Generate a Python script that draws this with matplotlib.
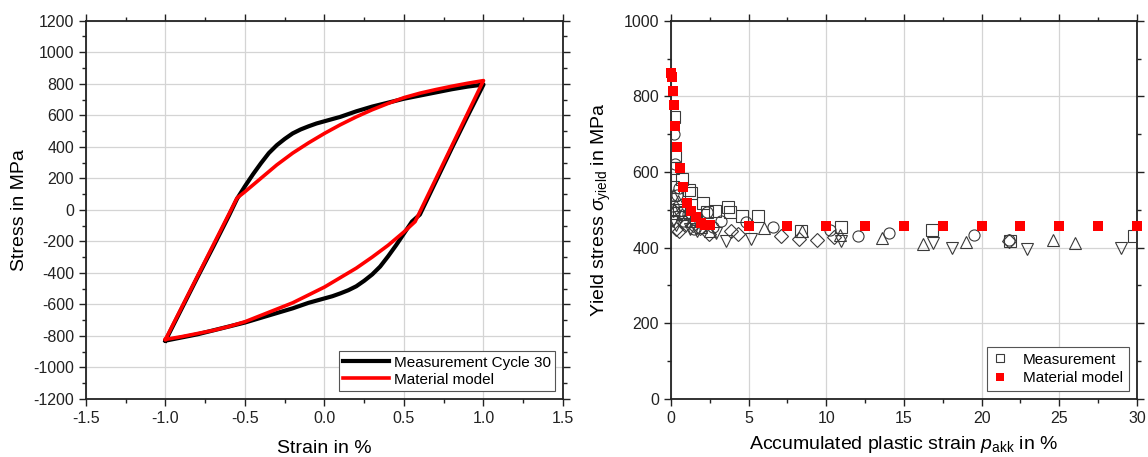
import matplotlib
matplotlib.use("Agg")
import matplotlib.pyplot as plt
from matplotlib.ticker import MultipleLocator, FormatStrFormatter

plt.rcParams['font.family'] = ['Liberation Sans', 'DejaVu Sans']
plt.rcParams['axes.unicode_minus'] = False
plt.rcParams['mathtext.fontset'] = 'custom'
plt.rcParams['mathtext.rm'] = 'Liberation Sans'
plt.rcParams['mathtext.it'] = 'Liberation Sans:italic'

# ---------------- Left panel: hysteresis loop ----------------
meas_strain = [-1.0, -0.9, -0.8, -0.7, -0.6, -0.55, -0.5, -0.45, -0.4, -0.35, -0.3, -0.25, -0.2,
               -0.15, -0.1, -0.05, 0.0, 0.1, 0.2, 0.3, 0.4, 0.5, 0.6, 0.7, 0.8, 0.9, 1.0,
               0.9, 0.8, 0.7, 0.6, 0.55, 0.5, 0.45, 0.4, 0.35, 0.3, 0.25, 0.2, 0.15, 0.1,
               0.05, 0.0, -0.1, -0.2, -0.3, -0.4, -0.5, -0.6, -0.7, -0.8, -0.9, -1.0]
meas_stress = [-830, -630, -430, -235, -35, 70, 150, 225, 295, 360, 410, 450, 485,
               510, 530, 548, 562, 590, 625, 655, 680, 705, 725, 745, 765, 782, 795,
               595, 390, 180, -30, -75, -150, -225, -295, -360, -410, -450, -485, -510, -530,
               -548, -562, -590, -625, -655, -685, -715, -740, -765, -790, -810, -830]

model_strain = [-1.0, -0.55, -0.5, -0.4, -0.3, -0.2, -0.1, 0.0, 0.1, 0.2, 0.3, 0.4, 0.5,
                0.6, 0.7, 0.8, 0.9, 1.0,
                0.57, 0.5, 0.4, 0.3, 0.2, 0.1, 0.0, -0.1, -0.2, -0.3, -0.4, -0.5,
                -0.6, -0.7, -0.8, -0.9, -1.0]
model_stress = [-822, 75, 115, 200, 285, 360, 425, 485, 540, 590, 635, 675, 712,
                740, 763, 784, 803, 820,
                -75, -140, -225, -300, -370, -430, -490, -540, -590, -630, -670, -710,
                -740, -765, -785, -805, -822]

# ---------------- Right panel: yield stress ----------------
sq_x = [0.19, 0.28, 0.15, 0.7, 1.17, 1.28, 2.03, 2.33, 2.84, 3.68, 3.78, 4.59, 5.59, 8.39,
        10.96, 16.83, 21.8, 29.8, 0.5, 0.9, 0.12, 1.6]
sq_y = [745, 643, 560, 581, 552, 545, 519, 494, 497, 508, 495, 483, 485, 443,
        454, 448, 418, 430, 500, 495, 610, 470]
ci_x = [0.19, 0.51, 0.1, 0.4, 1.5, 2.3, 3.19, 4.85, 6.57, 10.26, 12.07, 14.03, 19.53, 21.75,
        0.25, 0.8, 1.1, 2.7]
ci_y = [700, 558, 510, 540, 450, 495, 470, 467, 454, 448, 430, 440, 434, 421,
        620, 470, 490, 455]
tu_x = [0.47, 0.2, 0.7, 1.3, 6.01, 8.44, 10.91, 13.57, 16.25, 19.0, 24.6, 26.0, 0.1, 1.9, 2.5]
tu_y = [523, 500, 490, 470, 452, 445, 434, 426, 410, 415, 421, 413, 540, 455, 445]
td_x = [0.35, 0.1, 1.2, 3.54, 5.17, 10.96, 16.85, 18.07, 22.91, 28.98, 0.6, 1.7, 2.9]
td_y = [461, 470, 450, 418, 424, 418, 413, 399, 397, 399, 480, 445, 440]
di_x = [0.54, 0.3, 0.9, 1.86, 2.45, 3.85, 7.11, 8.23, 9.37, 10.49, 21.75, 0.15, 1.4, 4.3]
di_y = [445, 450, 460, 452, 436, 443, 432, 424, 419, 427, 418, 500, 460, 435]

mod_x = [0.02, 0.05, 0.13, 0.17, 0.26, 0.41, 0.58, 0.8, 1.05, 1.31, 1.61, 1.91, 2.19, 2.49,
         5, 7.5, 10, 12.5, 15, 17.5, 20, 22.5, 25, 27.5, 30]
mod_y = [861, 850, 815, 778, 722, 666, 610, 561, 519, 497, 481, 465, 459, 459,
         458, 458, 458, 458, 458, 458, 458, 458, 458, 458, 458]

fig = plt.figure(figsize=(11.48, 4.57), dpi=100)
ax1 = fig.add_axes([0.0749, 0.127, 0.4155, 0.8277])
ax2 = fig.add_axes([0.5845, 0.127, 0.4059, 0.8277])

grid_kw = dict(color='#d4d4d4', linewidth=0.9)

# Left
ax1.plot(meas_strain, meas_stress, color='black', lw=3.0, label='Measurement Cycle 30',
         zorder=3, solid_joinstyle='round')
ax1.plot(model_strain, model_stress, color='#ff0000', lw=2.6, label='Material model',
         zorder=4, solid_joinstyle='round')
ax1.set_xlim(-1.5, 1.5)
ax1.set_ylim(-1200, 1200)
ax1.xaxis.set_major_locator(MultipleLocator(0.5))
ax1.xaxis.set_minor_locator(MultipleLocator(0.25))
ax1.yaxis.set_major_locator(MultipleLocator(200))
ax1.yaxis.set_minor_locator(MultipleLocator(100))
ax1.xaxis.set_major_formatter(FormatStrFormatter('%.1f'))
ax1.grid(True, which='major', **grid_kw)
ax1.set_axisbelow(True)
ax1.set_xlabel('Strain in %', fontsize=14, labelpad=10)
ax1.set_ylabel('Stress in MPa', fontsize=14, labelpad=4)
leg1 = ax1.legend(loc='lower right', fontsize=11, frameon=True, fancybox=False,
                  edgecolor='#555555', framealpha=1, handlelength=3.0, borderpad=0.3,
                  labelspacing=0.2, handletextpad=0.3, borderaxespad=0.5)
leg1.get_frame().set_linewidth(0.8)

# Right
mk = dict(linestyle='none', mfc='none', mec='#3a3a3a', mew=0.8, ms=8, zorder=3)
ax2.plot(sq_x, sq_y, marker='s', label='Measurement', **mk)
ax2.plot(ci_x, ci_y, marker='o', **mk)
ax2.plot(tu_x, tu_y, marker='^', **mk)
ax2.plot(td_x, td_y, marker='v', **mk)
ax2.plot(di_x, di_y, marker='D', **dict(mk, ms=7))
ax2.plot(mod_x, mod_y, linestyle='none', marker='s', color='#ff0000', ms=7, mew=0,
         label='Material model', zorder=4, clip_on=False)
ax2.set_xlim(0, 30)
ax2.set_ylim(0, 1000)
ax2.xaxis.set_major_locator(MultipleLocator(5))
ax2.xaxis.set_minor_locator(MultipleLocator(2.5))
ax2.yaxis.set_major_locator(MultipleLocator(200))
ax2.yaxis.set_minor_locator(MultipleLocator(100))
ax2.grid(True, which='major', **grid_kw)
ax2.set_axisbelow(True)
ax2.set_xlabel(r'Accumulated plastic strain $p_{\mathrm{akk}}$ in %', fontsize=14, labelpad=6)
ax2.set_ylabel(r'Yield stress $\sigma_{\mathrm{yield}}$ in MPa', fontsize=14, labelpad=8)
leg2 = ax2.legend(loc='lower right', fontsize=11, frameon=True, fancybox=False,
                  edgecolor='#555555', framealpha=1, handlelength=1.0, borderpad=0.4,
                  labelspacing=0.3, handletextpad=1.0, borderaxespad=0.5, markerscale=0.75)
leg2.get_frame().set_linewidth(0.8)

for ax in (ax1, ax2):
    ax.tick_params(which='both', direction='out', labelsize=11.5, width=1.0,
                   top=True, right=True, colors='#222222')
    ax.tick_params(which='major', length=5)
    ax.tick_params(which='minor', length=3)
    for s in ax.spines.values():
        s.set_linewidth(1.3)
        s.set_color('#222222')
    ax.tick_params(labelcolor='#222222')

fig.savefig('out.png', dpi=100)
